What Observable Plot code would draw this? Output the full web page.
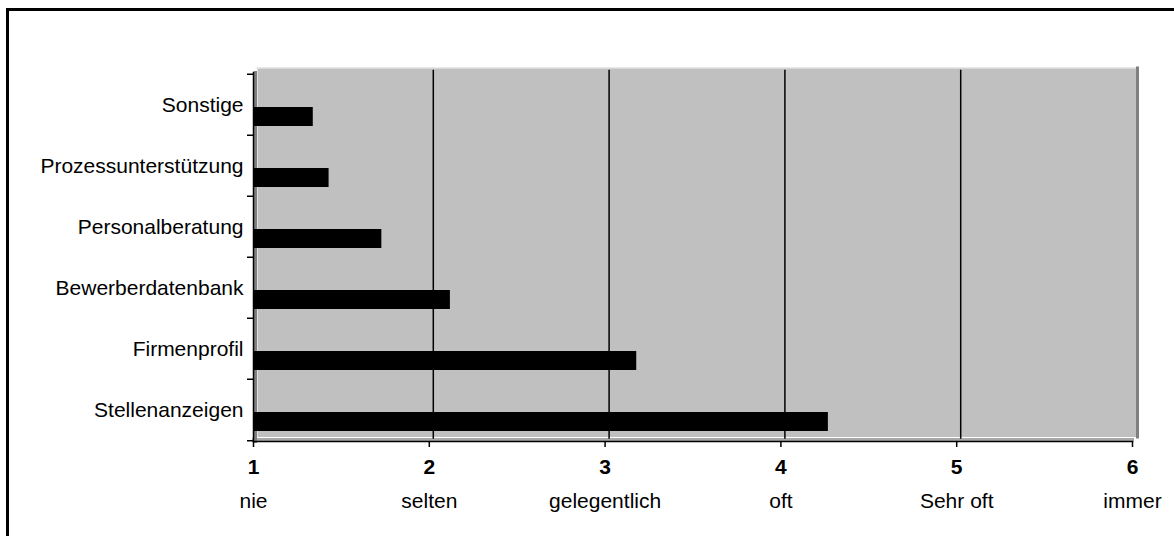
<!DOCTYPE html>
<html>
<head>
<meta charset="utf-8">
<script src="https://cdn.jsdelivr.net/npm/d3@7"></script>
<script src="https://cdn.jsdelivr.net/npm/@observablehq/plot@0.6"></script>
<style>
  html, body { margin: 0; padding: 0; background: #fff; overflow: hidden; }
  #wrap { position: relative; width: 1174px; height: 536px; overflow: hidden; }
  #border { position: absolute; left: 6px; top: 8px; width: 1300px; height: 700px;
            border-left: 3px solid #000; border-top: 3px solid #000; pointer-events: none; }
  #chart svg { display: block; }
</style>
</head>
<body>
<div id="wrap"><div id="chart"></div><div id="border"></div></div>
<script>
const categories = ["Stellenanzeigen", "Firmenprofil", "Bewerberdatenbank", "Personalberatung", "Prozessunterstützung", "Sonstige"];
const values = [4.27, 3.18, 2.12, 1.73, 1.43, 1.34];
const tickValues = [1, 2, 3, 4, 5, 6];
const tickLabels = ["nie", "selten", "gelegentlich", "oft", "Sehr oft", "immer"];
const gridValues = [2, 3, 4, 5];

const data = categories.map((c, i) => ({category: c, value: values[i]}));
const levels = tickValues.map((v, i) => ({v, label: tickLabels[i]}));

const font = "'Liberation Sans', Arial, sans-serif";
const depthX = 4, depthY = -4.5;

const chart = Plot.plot({
  width: 1174,
  height: 536,
  marginLeft: 253,
  marginRight: 42,
  marginTop: 72,
  marginBottom: 95,
  style: {fontFamily: font, fontSize: "21px", color: "#000", background: "transparent"},
  x: {domain: [1, 6], axis: null},
  y: {domain: categories.slice().reverse(), padding: 0, axis: null},
  marks: [
    // back wall
    Plot.frame({fill: "#c0c0c0", stroke: null, dx: depthX, dy: depthY}),
    Plot.frame({anchor: "top", stroke: "#e0e0e0", strokeWidth: 1.5, dx: depthX, dy: depthY}),
    Plot.frame({anchor: "right", stroke: "#808080", strokeWidth: 3, dx: depthX + 1, dy: depthY}),
    // floor and left wall
    Plot.frame({anchor: "bottom", stroke: "#a8a8a8", strokeWidth: 3, dy: -2}),
    Plot.frame({anchor: "left", stroke: "#808080", strokeWidth: 3, dx: 2}),
    // gridlines on back wall
    Plot.ruleX(gridValues, {stroke: "#000", strokeWidth: 1.5, dx: depthX, dy: depthY / 2}),
    // bars
    Plot.barX(data, {y: "category", x1: () => 1, x2: "value", fill: "#000", insetTop: 33, insetBottom: 9}),
    // axis lines
    Plot.frame({anchor: "left", stroke: "#000", strokeWidth: 1.5}),
    Plot.frame({anchor: "bottom", stroke: "#000", strokeWidth: 1.5}),
    // y axis: boundary ticks
    Plot.axisY({tickSize: 6, tickFormat: () => "", label: null, strokeWidth: 1.5, dy: -30.75}),
    Plot.axisY([categories[0]], {tickSize: 6, tickFormat: () => "", label: null, strokeWidth: 1.5, dy: 30.75}),
    // y axis labels
    Plot.axisY({tickSize: 0, tickPadding: 10, label: null, fontSize: 21, fill: "#000"}),
    // x axis numbers
    Plot.axisX(tickValues, {tickSize: 6, tickPadding: 12, label: null, strokeWidth: 1.5, fontSize: 21, fontWeight: "bold", fill: "#000", tickFormat: d => String(d)}),
    // x axis category words
    Plot.text(levels, {x: "v", text: "label", frameAnchor: "bottom", dy: 66, fontSize: 21, fill: "#000"})
  ]
});
document.getElementById("chart").appendChild(chart);
</script>
</body>
</html>
